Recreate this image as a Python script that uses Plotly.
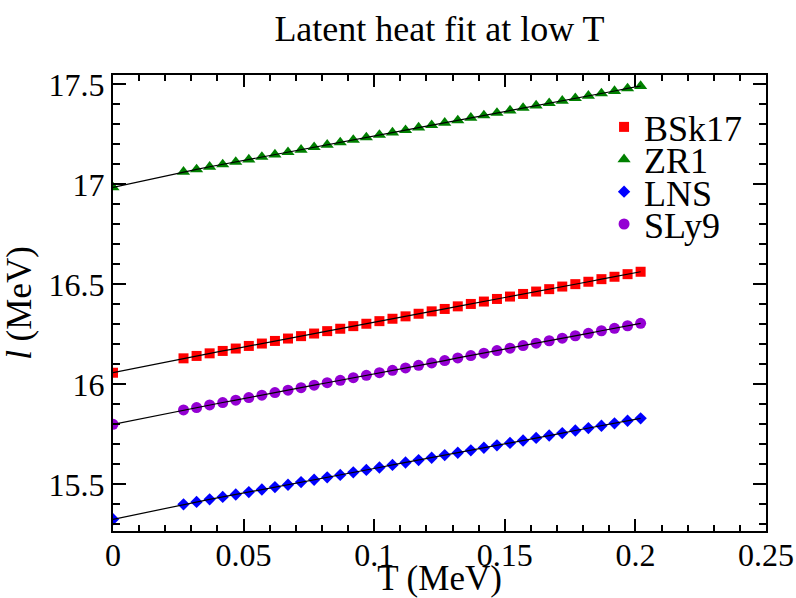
import plotly.graph_objects as go

T = [0, 0.027, 0.032, 0.037, 0.042, 0.047, 0.052, 0.057, 0.062, 0.067, 0.072,
     0.077, 0.082, 0.087, 0.092, 0.097, 0.102, 0.107, 0.112, 0.117, 0.122,
     0.127, 0.132, 0.137, 0.142, 0.147, 0.152, 0.157, 0.162, 0.167, 0.172,
     0.177, 0.182, 0.187, 0.192, 0.197, 0.202]

BSk17 = [16.058, 16.130, 16.142, 16.155, 16.167, 16.179, 16.192, 16.204, 16.217,
         16.229, 16.241, 16.254, 16.266, 16.278, 16.291, 16.303, 16.316, 16.328,
         16.340, 16.353, 16.365, 16.377, 16.390, 16.402, 16.414, 16.427, 16.439,
         16.452, 16.464, 16.476, 16.489, 16.501, 16.513, 16.526, 16.538, 16.551,
         16.563]

ZR1 = [16.985, 17.063, 17.075, 17.088, 17.100, 17.112, 17.124, 17.137, 17.149,
       17.161, 17.173, 17.186, 17.198, 17.210, 17.222, 17.235, 17.247, 17.259,
       17.271, 17.284, 17.296, 17.308, 17.320, 17.333, 17.345, 17.357, 17.369,
       17.382, 17.394, 17.406, 17.418, 17.431, 17.443, 17.455, 17.467, 17.480,
       17.492]

LNS = [15.325, 15.400, 15.412, 15.425, 15.437, 15.449, 15.461, 15.474, 15.486,
       15.498, 15.511, 15.523, 15.535, 15.547, 15.560, 15.572, 15.584, 15.597,
       15.609, 15.621, 15.633, 15.646, 15.658, 15.670, 15.683, 15.695, 15.707,
       15.719, 15.732, 15.744, 15.756, 15.769, 15.781, 15.793, 15.805, 15.818,
       15.830]

SLy9 = [15.800, 15.872, 15.884, 15.897, 15.909, 15.921, 15.934, 15.946, 15.959,
        15.971, 15.983, 15.996, 16.008, 16.020, 16.033, 16.045, 16.058, 16.070,
        16.082, 16.095, 16.107, 16.119, 16.132, 16.144, 16.156, 16.169, 16.181,
        16.194, 16.206, 16.218, 16.231, 16.243, 16.255, 16.268, 16.280, 16.293,
        16.305]

x_tickvals = [0, 0.05, 0.1, 0.15, 0.2, 0.25]
x_ticktext = ["0", "0.05", "0.1", "0.15", "0.2", "0.25"]
y_tickvals = [15.5, 16, 16.5, 17, 17.5]
y_ticktext = ["15.5", "16", "16.5", "17", "17.5"]

FONT = "Liberation Serif"

series = [
    ("BSk17", BSk17, "square", "#ff0000", 10, "legend"),
    ("ZR1", ZR1, "triangle-up", "#008000", 11.5, "legend2"),
    ("LNS", LNS, "diamond", "#0000ff", 9.5, "legend3"),
    ("SLy9", SLy9, "circle", "#9400d3", 11, "legend4"),
]

fig = go.Figure()
for name, ys, sym, col, sz, lg in series:
    fig.add_trace(go.Scatter(
        x=T, y=ys, mode="markers", name=name, legend=lg,
        marker=dict(symbol=sym, color=col, size=sz, line=dict(width=0)),
    ))
for name, ys, sym, col, sz, lg in series:
    fig.add_trace(go.Scatter(
        x=T, y=ys, mode="lines", showlegend=False, hoverinfo="skip",
        line=dict(color="black", width=1.2),
    ))

leg_common = dict(
    xanchor="left", yanchor="middle", x=0.752,
    bgcolor="rgba(0,0,0,0)", borderwidth=0,
    font=dict(family=FONT, size=36, color="black"),
    itemclick=False, itemdoubleclick=False,
)
leg_y = [0.886, 0.815, 0.744, 0.673]

axis_common = dict(
    showgrid=False, zeroline=False, showline=True, linecolor="black",
    linewidth=2, mirror="allticks", ticks="inside", tickcolor="black",
    tickwidth=1.5, tickfont=dict(family=FONT, size=32, color="black"),
    automargin=False,
)

fig.update_layout(
    width=796, height=598,
    margin=dict(l=113, r=30, t=75, b=67),
    paper_bgcolor="white", plot_bgcolor="white",
    font=dict(family=FONT, color="black"),
    title=dict(text="Latent heat fit at low T", x=0.5, xref="paper",
               xanchor="center", y=1 - 28 / 598, yanchor="middle",
               font=dict(family=FONT, size=36, color="black")),
    legend=dict(y=leg_y[0], **leg_common),
    legend2=dict(y=leg_y[1], **leg_common),
    legend3=dict(y=leg_y[2], **leg_common),
    legend4=dict(y=leg_y[3], **leg_common),
    xaxis=dict(
        range=[0, 0.25], tickvals=x_tickvals, ticktext=x_ticktext,
        ticklen=12, ticklabelstandoff=-5,
        minor=dict(dtick=0.01, tick0=0, ticklen=6, ticks="inside",
                   tickcolor="black", tickwidth=1.5),
        title=dict(text="T (MeV)", standoff=4,
                   font=dict(family=FONT, size=35, color="black")),
        **axis_common,
    ),
    yaxis=dict(
        range=[15.2665, 17.547], tickvals=y_tickvals, ticktext=y_ticktext,
        ticklen=13,
        minor=dict(dtick=0.1, tick0=15.0, ticklen=7, ticks="inside",
                   tickcolor="black", tickwidth=1.5),
        title=dict(text="<i>l</i> (MeV)", standoff=6,
                   font=dict(family=FONT, size=35, color="black")),
        **axis_common,
    ),
)

fig.write_html("out.html")
